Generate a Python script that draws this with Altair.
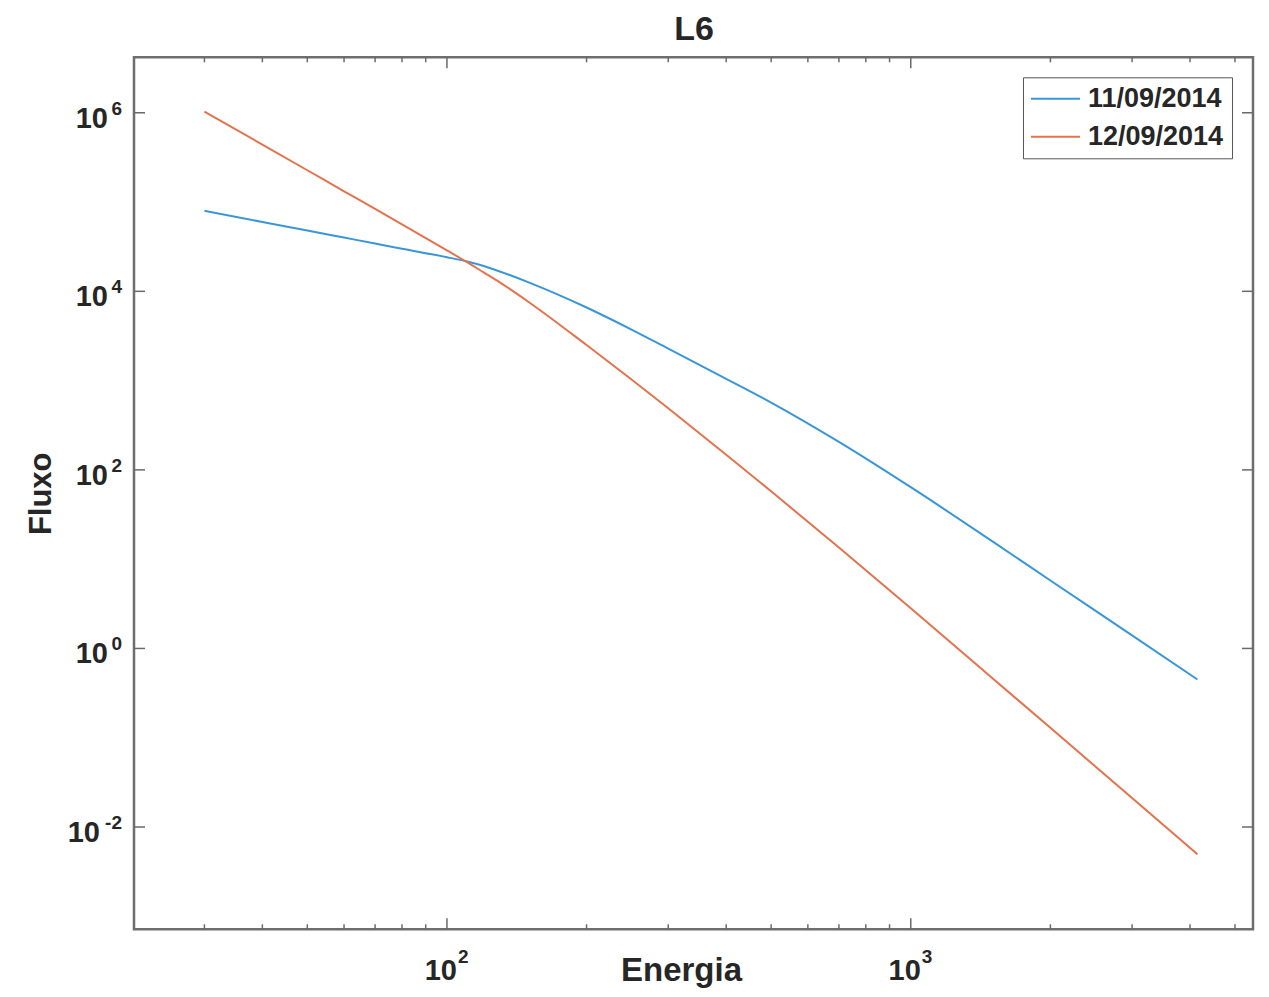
import altair as alt
import pandas as pd

# ---------------- data ----------------
energy = [30, 40, 50, 60, 70, 80, 100, 110, 120, 130, 150, 200, 250, 300,
          400, 500, 700, 1000, 1500, 2000, 3000, 4150]
flux_11 = [7.98e4, 5.98e4, 4.80e4, 4.00e4, 3.43e4, 3.00e4, 2.41e4, 2.17e4,
           1.92e4, 1.67e4, 1.26e4, 6.59e3, 3.73e3, 2.28e3, 1.047e3, 568, 206,
           64.0, 15.8, 5.77, 1.40, 0.449]
flux_12 = [1.03e6, 4.40e5, 2.27e5, 1.32e5, 8.36e4, 5.61e4, 2.87e4, 2.15e4,
           1.63e4, 1.26e4, 7.6e3, 2.5e3, 1.028e3, 490, 148, 57.5, 13.5, 2.82,
           0.465, 0.129, 0.0211, 4.94e-3]
series_names = ["11/09/2014", "12/09/2014"]
series_colors = ["#3A96D8", "#E4734D"]

title_text = "L6"
x_title = "Energia"
y_title = "Fluxo"
tick_base = "10"

x_major = [100, 1000]
x_major_exp = ["2", "3"]
x_minor = [30, 40, 50, 60, 70, 80, 90, 200, 300, 400, 500, 600, 700, 800, 900,
           2000, 3000, 4000, 5000]
y_major = [1e-2, 1, 1e2, 1e4, 1e6]
y_major_exp = ["-2", "0", "2", "4", "6"]

x_domain = [21.15, 5468]
y_domain = [7.15e-4, 4.18e6]

# ---------------- build tables ----------------
df = pd.DataFrame({
    "Energia": energy * 2,
    "Fluxo": flux_11 + flux_12,
    "serie": [series_names[0]] * len(energy) + [series_names[1]] * len(energy),
})
df_xmaj = pd.DataFrame({"Energia": x_major, "exp": x_major_exp})
df_xmin = pd.DataFrame({"Energia": x_minor})
df_ymaj = pd.DataFrame({"Fluxo": y_major, "exp": y_major_exp})
df_title = pd.DataFrame({"t": [title_text]})

W, H = 1119, 872
FONT = "Liberation Sans"
TXT = "#262626"
TICK = "#6a6a6a"

xs = alt.Scale(type="log", domain=x_domain, nice=False, zero=False)
ys = alt.Scale(type="log", domain=y_domain, nice=False, zero=False)

x_axis = alt.Axis(values=x_major, labels=False, ticks=False, domain=False,
                  grid=False,
                  title=x_title, titleFont=FONT, titleFontSize=33,
                  titleFontWeight="bold", titleColor=TXT,
                  titleBaseline="alphabetic", titleY=51, titleX=547)
y_axis = alt.Axis(values=y_major, labels=False, ticks=False, domain=False,
                  grid=False,
                  title=y_title, titleFont=FONT, titleFontSize=31,
                  titleFontWeight="bold", titleColor=TXT,
                  titleBaseline="alphabetic", titleX=-84, titleAngle=270)

X = alt.X("Energia:Q", scale=xs, axis=x_axis)
Y = alt.Y("Fluxo:Q", scale=ys, axis=y_axis)

lines = alt.Chart(df).mark_line(strokeWidth=2, interpolate="monotone").encode(
    x=X, y=Y,
    color=alt.Color("serie:N",
                    scale=alt.Scale(domain=series_names, range=series_colors),
                    legend=alt.Legend(
                        title=None, orient="none", legendX=889, legendY=20,
                        symbolType="M-2.45,0H2.45", symbolSize=400,
                        symbolStrokeWidth=2, symbolOffset=11,
                        labelOffset=19, labelFont=FONT, labelFontSize=27,
                        labelFontWeight="bold", labelColor=TXT,
                        strokeColor="#555555", fillColor="white",
                        padding=8, rowPadding=10)),
)

major_len, minor_len = 11, 5
rule = dict(color=TICK, strokeWidth=1.5)

bx_maj = alt.Chart(df_xmaj).mark_rule(**rule).encode(
    x=X, y=alt.value(H), y2=alt.value(H - major_len))
tx_maj = alt.Chart(df_xmaj).mark_rule(**rule).encode(
    x=X, y=alt.value(0), y2=alt.value(major_len))
bx_min = alt.Chart(df_xmin).mark_rule(**rule).encode(
    x=X, y=alt.value(H), y2=alt.value(H - minor_len))
tx_min = alt.Chart(df_xmin).mark_rule(**rule).encode(
    x=X, y=alt.value(0), y2=alt.value(minor_len))
ly_maj = alt.Chart(df_ymaj).mark_rule(**rule).encode(
    y=Y, x=alt.value(0), x2=alt.value(major_len))
ry_maj = alt.Chart(df_ymaj).mark_rule(**rule).encode(
    y=Y, x=alt.value(W), x2=alt.value(W - major_len))

txt = dict(font=FONT, fontWeight="bold", color=TXT, baseline="alphabetic")

# x tick labels: "10" + superscript exponent
xl_base = alt.Chart(df_xmaj).mark_text(align="right", fontSize=29, dx=10, **txt).encode(
    x=X, y=alt.value(H + 51), text=alt.value(tick_base))
xl_exp = alt.Chart(df_xmaj).mark_text(align="left", fontSize=19, dx=11, **txt).encode(
    x=X, y=alt.value(H + 34), text="exp:N")

# y tick labels
yl_exp = alt.Chart(df_ymaj).mark_text(align="right", fontSize=19, dy=2, **txt).encode(
    y=Y, x=alt.value(-12), text="exp:N")
yl_base1 = alt.Chart(df_ymaj).transform_filter("length(datum.exp) == 1").mark_text(
    align="right", fontSize=29, dy=15, **txt).encode(
    y=Y, x=alt.value(-26), text=alt.value(tick_base))
yl_base2 = alt.Chart(df_ymaj).transform_filter("length(datum.exp) == 2").mark_text(
    align="right", fontSize=29, dy=15, **txt).encode(
    y=Y, x=alt.value(-34), text=alt.value(tick_base))

title = alt.Chart(df_title).mark_text(align="center", fontSize=34, **txt).encode(
    x=alt.value(W / 2 + 0.5), y=alt.value(-17), text="t:N")

chart = alt.layer(lines, bx_maj, tx_maj, bx_min, tx_min, ly_maj, ry_maj,
                  xl_base, xl_exp, yl_exp, yl_base1, yl_base2, title).properties(
    width=W, height=H,
    autosize=alt.AutoSizeParams(type="none"),
    padding={"left": 126, "top": 49.3, "right": 6, "bottom": 61},
).configure_view(
    stroke="#6e6e6e", strokeWidth=2.5
)

chart.save("out.html", embed_options={"renderer": "svg", "actions": False})
